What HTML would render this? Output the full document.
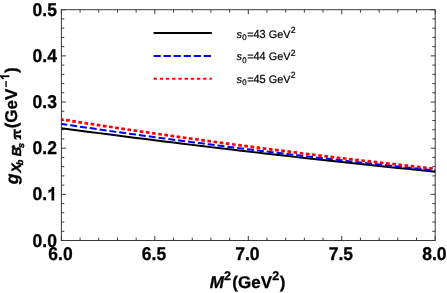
<!DOCTYPE html>
<html><head><meta charset="utf-8"><style>
html,body{margin:0;padding:0;background:#fff;}
svg{display:block;text-rendering:geometricPrecision;will-change:transform;font-family:"Liberation Sans",sans-serif;}
</style></head><body>
<svg width="447" height="293" viewBox="0 0 447 293">
<rect width="447" height="293" fill="#fff"/>
<rect x="61.4" y="9.7" width="373.80" height="230.80" fill="none" stroke="#3a3a3a" stroke-width="1"/>
<path d="M61.40 240.5v-4.5M61.40 9.7v4.5M80.09 240.5v-2.9M80.09 9.7v2.9M98.78 240.5v-2.9M98.78 9.7v2.9M117.47 240.5v-2.9M117.47 9.7v2.9M136.16 240.5v-2.9M136.16 9.7v2.9M154.85 240.5v-4.5M154.85 9.7v4.5M173.54 240.5v-2.9M173.54 9.7v2.9M192.23 240.5v-2.9M192.23 9.7v2.9M210.92 240.5v-2.9M210.92 9.7v2.9M229.61 240.5v-2.9M229.61 9.7v2.9M248.30 240.5v-4.5M248.30 9.7v4.5M266.99 240.5v-2.9M266.99 9.7v2.9M285.68 240.5v-2.9M285.68 9.7v2.9M304.37 240.5v-2.9M304.37 9.7v2.9M323.06 240.5v-2.9M323.06 9.7v2.9M341.75 240.5v-4.5M341.75 9.7v4.5M360.44 240.5v-2.9M360.44 9.7v2.9M379.13 240.5v-2.9M379.13 9.7v2.9M397.82 240.5v-2.9M397.82 9.7v2.9M416.51 240.5v-2.9M416.51 9.7v2.9M435.20 240.5v-4.5M435.20 9.7v4.5M61.4 240.50h4.5M435.2 240.50h-4.5M61.4 231.27h2.9M435.2 231.27h-2.9M61.4 222.04h2.9M435.2 222.04h-2.9M61.4 212.80h2.9M435.2 212.80h-2.9M61.4 203.57h2.9M435.2 203.57h-2.9M61.4 194.34h4.5M435.2 194.34h-4.5M61.4 185.11h2.9M435.2 185.11h-2.9M61.4 175.88h2.9M435.2 175.88h-2.9M61.4 166.64h2.9M435.2 166.64h-2.9M61.4 157.41h2.9M435.2 157.41h-2.9M61.4 148.18h4.5M435.2 148.18h-4.5M61.4 138.95h2.9M435.2 138.95h-2.9M61.4 129.72h2.9M435.2 129.72h-2.9M61.4 120.48h2.9M435.2 120.48h-2.9M61.4 111.25h2.9M435.2 111.25h-2.9M61.4 102.02h4.5M435.2 102.02h-4.5M61.4 92.79h2.9M435.2 92.79h-2.9M61.4 83.56h2.9M435.2 83.56h-2.9M61.4 74.32h2.9M435.2 74.32h-2.9M61.4 65.09h2.9M435.2 65.09h-2.9M61.4 55.86h4.5M435.2 55.86h-4.5M61.4 46.63h2.9M435.2 46.63h-2.9M61.4 37.40h2.9M435.2 37.40h-2.9M61.4 28.16h2.9M435.2 28.16h-2.9M61.4 18.93h2.9M435.2 18.93h-2.9M61.4 9.70h4.5M435.2 9.70h-4.5" stroke="#3a3a3a" stroke-width="1" fill="none"/>
<path d="M61.40 128.20 L70.75 129.44 L80.09 130.68 L89.44 131.91 L98.78 133.13 L108.12 134.34 L117.47 135.54 L126.81 136.74 L136.16 137.92 L145.50 139.10 L154.85 140.27 L164.19 141.44 L173.54 142.59 L182.89 143.74 L192.23 144.88 L201.58 146.01 L210.92 147.13 L220.27 148.25 L229.61 149.35 L238.96 150.45 L248.30 151.54 L257.64 152.63 L266.99 153.70 L276.33 154.77 L285.68 155.83 L295.02 156.88 L304.37 157.92 L313.71 158.96 L323.06 159.98 L332.40 161.00 L341.75 162.01 L351.10 163.01 L360.44 164.01 L369.78 164.99 L379.13 165.97 L388.47 166.94 L397.82 167.91 L407.16 168.86 L416.51 169.81 L425.86 170.74 L435.20 171.67" stroke="#000" stroke-width="2" fill="none"/>
<path d="M61.40 124.00 L70.75 125.36 L80.09 126.72 L89.44 128.06 L98.78 129.39 L108.12 130.71 L117.47 132.03 L126.81 133.33 L136.16 134.62 L145.50 135.90 L154.85 137.17 L164.19 138.43 L173.54 139.67 L182.89 140.91 L192.23 142.14 L201.58 143.36 L210.92 144.56 L220.27 145.76 L229.61 146.95 L238.96 148.12 L248.30 149.28 L257.64 150.44 L266.99 151.58 L276.33 152.72 L285.68 153.84 L295.02 154.95 L304.37 156.05 L313.71 157.14 L323.06 158.23 L332.40 159.30 L341.75 160.36 L351.10 161.40 L360.44 162.44 L369.78 163.47 L379.13 164.49 L388.47 165.50 L397.82 166.49 L407.16 167.48 L416.51 168.46 L425.86 169.42 L435.20 170.38" stroke="#0000ff" stroke-width="2.0" stroke-dasharray="7.0 2.915" stroke-dashoffset="1.06" fill="none"/>
<path d="M61.40 119.40 L70.75 120.86 L80.09 122.31 L89.44 123.75 L98.78 125.18 L108.12 126.59 L117.47 127.99 L126.81 129.38 L136.16 130.76 L145.50 132.13 L154.85 133.49 L164.19 134.83 L173.54 136.16 L182.89 137.48 L192.23 138.79 L201.58 140.09 L210.92 141.38 L220.27 142.65 L229.61 143.91 L238.96 145.16 L248.30 146.40 L257.64 147.63 L266.99 148.85 L276.33 150.05 L285.68 151.24 L295.02 152.42 L304.37 153.59 L313.71 154.75 L323.06 155.89 L332.40 157.03 L341.75 158.15 L351.10 159.26 L360.44 160.36 L369.78 161.44 L379.13 162.52 L388.47 163.58 L397.82 164.63 L407.16 165.68 L416.51 166.70 L425.86 167.72 L435.20 168.72" stroke="#ff0000" stroke-width="2.7" stroke-dasharray="3.7 2.509" stroke-dashoffset="1.45" fill="none"/>
<path d="M153.6 32.9H211.8" stroke="#000" stroke-width="2"/>
<path d="M153.6 56H211.8" stroke="#0000ff" stroke-width="2" stroke-dasharray="7.2 2.83"/>
<path d="M153.6 78.7H211.8" stroke="#ff0000" stroke-width="2" stroke-dasharray="3.3 2.9"/>
<g font-size="10.9" fill="#000" stroke="#000" stroke-width="0.22" stroke-linejoin="round"><text x="236.6" y="37.6" font-style="italic">s</text><text transform="translate(242.25,40.0) scale(1,1.04)" font-size="7.8">0</text><text x="247.19" y="37.6">=</text><text transform="translate(253.56,37.6) scale(1,1.07)">43</text><text x="268.71" y="37.6">GeV</text><text transform="translate(290.82,32.800000000000004) scale(1,1.05)" font-size="8.6">2</text></g>
<g font-size="10.9" fill="#000" stroke="#000" stroke-width="0.22" stroke-linejoin="round"><text x="236.6" y="60.3" font-style="italic">s</text><text transform="translate(242.25,62.699999999999996) scale(1,1.04)" font-size="7.8">0</text><text x="247.19" y="60.3">=</text><text transform="translate(253.56,60.3) scale(1,1.07)">44</text><text x="268.71" y="60.3">GeV</text><text transform="translate(290.82,55.5) scale(1,1.05)" font-size="8.6">2</text></g>
<g font-size="10.9" fill="#000" stroke="#000" stroke-width="0.22" stroke-linejoin="round"><text x="236.6" y="83.0" font-style="italic">s</text><text transform="translate(242.25,85.4) scale(1,1.04)" font-size="7.8">0</text><text x="247.19" y="83.0">=</text><text transform="translate(253.56,83.0) scale(1,1.07)">45</text><text x="268.71" y="83.0">GeV</text><text transform="translate(290.82,78.2) scale(1,1.05)" font-size="8.6">2</text></g>
<text transform="translate(60.50,259.6) scale(1,1.055)" font-size="17.5" font-weight="bold" stroke="#000" stroke-width="0.3" stroke-linejoin="round" text-anchor="middle">6.0</text>
<text transform="translate(153.95,259.6) scale(1,1.055)" font-size="17.5" font-weight="bold" stroke="#000" stroke-width="0.3" stroke-linejoin="round" text-anchor="middle">6.5</text>
<text transform="translate(247.40,259.6) scale(1,1.055)" font-size="17.5" font-weight="bold" stroke="#000" stroke-width="0.3" stroke-linejoin="round" text-anchor="middle">7.0</text>
<text transform="translate(340.85,259.6) scale(1,1.055)" font-size="17.5" font-weight="bold" stroke="#000" stroke-width="0.3" stroke-linejoin="round" text-anchor="middle">7.5</text>
<text transform="translate(434.30,259.6) scale(1,1.055)" font-size="17.5" font-weight="bold" stroke="#000" stroke-width="0.3" stroke-linejoin="round" text-anchor="middle">8.0</text>
<text transform="translate(56.9,246.50) scale(1,1.055)" font-size="17.5" font-weight="bold" stroke="#000" stroke-width="0.3" stroke-linejoin="round" text-anchor="end">0.0</text>
<text transform="translate(47.17,200.34) scale(1,1.055)" font-size="17.5" font-weight="bold" stroke="#000" stroke-width="0.3" stroke-linejoin="round" text-anchor="end">0.</text>
<path transform="translate(47.17,200.34) scale(0.008545,-0.009015)" d="M806 0H525V1059Q371 915 162 846V1101Q272 1137 401 1237.5Q530 1338 578 1472H806Z" fill="#000" stroke="#000" stroke-width="35.1" stroke-linejoin="round"/>
<text transform="translate(56.9,154.18) scale(1,1.055)" font-size="17.5" font-weight="bold" stroke="#000" stroke-width="0.3" stroke-linejoin="round" text-anchor="end">0.2</text>
<text transform="translate(56.9,108.02) scale(1,1.055)" font-size="17.5" font-weight="bold" stroke="#000" stroke-width="0.3" stroke-linejoin="round" text-anchor="end">0.3</text>
<text transform="translate(56.9,61.86) scale(1,1.055)" font-size="17.5" font-weight="bold" stroke="#000" stroke-width="0.3" stroke-linejoin="round" text-anchor="end">0.4</text>
<text transform="translate(56.9,15.70) scale(1,1.055)" font-size="17.5" font-weight="bold" stroke="#000" stroke-width="0.3" stroke-linejoin="round" text-anchor="end">0.5</text>
<text x="209.8" y="288.0" font-size="17.0" font-weight="bold" stroke="#000" stroke-width="0.3" stroke-linejoin="round"><tspan font-style="italic">M</tspan><tspan font-size="12.5" dy="-8.3">2</tspan><tspan dy="8.3" dx="1.4">(GeV</tspan><tspan font-size="12.5" dy="-8.3" dx="0.3">2</tspan><tspan dy="8.3" dx="0.5">)</tspan></text>
<g transform="translate(17.5,184.2) rotate(-90)" stroke="#000" stroke-width="0.3" stroke-linejoin="round"><text x="0" y="0" font-size="17.5" font-weight="bold" font-style="italic">g</text><text x="11.6" y="3.2" font-size="13.5" font-weight="bold" font-style="italic" stroke-width="0.45">X</text><text x="19.0" y="5.9" font-size="9.2" font-weight="bold" font-style="italic" stroke-width="0.45">b</text><text x="28.0" y="3.2" font-size="13" font-weight="bold" font-style="italic" stroke-width="0.45">B</text><text x="36.2" y="6.7" font-size="9" font-weight="bold" font-style="italic" stroke-width="0.45">s</text><text x="35.7" y="0.3" font-size="9" font-weight="bold">*</text><g transform="translate(44.5,3.6)" fill="#000" stroke="none"><path d="M0.0 -4.6Q0.3 -7.4 2.6 -7.4L10.75 -7.4L10.5 -5.4L2.6 -5.4Q1.4 -5.4 0.9 -4.3Z"/><path d="M2.7 -5.6L4.9 -5.6Q4.2 -2.5 4.4 -0.1L2.6 0.1L0.1 -0.1L0.2 -1.3Q1.6 -0.9 2.1 -2.2Q2.6 -3.6 2.7 -5.6Z"/><path d="M6.0 -5.6L8.5 -5.6Q8.1 -2.6 8.5 -1.7Q8.9 -1.1 9.8 -1.9L9.9 -0.5Q8.7 0.3 7.5 0Q6.3 -0.6 6.0 -5.6Z"/></g><text x="55.9" y="-0.8" font-size="17" font-weight="bold">(GeV</text><rect x="97.1" y="-12.1" width="6.1" height="1.35" fill="#000" stroke="none"/><path transform="translate(104.30,-8.30) scale(0.005469,-0.006234)" d="M806 0H525V1059Q371 915 162 846V1101Q272 1137 401 1237.5Q530 1338 578 1472H806Z" fill="#000" stroke="#000" stroke-width="54.9" stroke-linejoin="round"/><text x="111.1" y="-0.6" font-size="17" font-weight="bold">)</text></g>
</svg>
</body></html>
